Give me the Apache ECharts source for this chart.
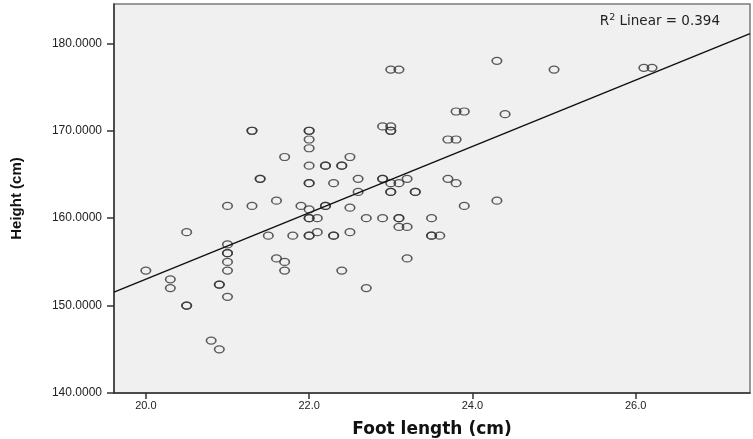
<!DOCTYPE html>
<html>
<head>
<meta charset="utf-8">
<script src="https://cdn.jsdelivr.net/npm/echarts@6/dist/echarts.min.js"></script>
<style>
  html, body { margin: 0; padding: 0; background: #fff; }
  #chart { width: 753px; height: 439px; }
</style>
</head>
<body>
<div id="chart"></div>
<script>
// foot length (cm)
const footLength = [
  20.0, 20.3, 20.3, 20.5, 20.5, 20.5, 20.8, 20.9, 20.9, 20.9,
  21.0, 21.0, 21.0, 21.0, 21.0, 21.0, 21.0, 21.3, 21.3, 21.3,
  21.4, 21.4, 21.5, 21.6, 21.6, 21.7, 21.7, 21.7, 21.8, 21.9,
  22.0, 22.0, 22.0, 22.0, 22.0, 22.0, 22.0, 22.0, 22.0, 22.0, 22.0, 22.0,
  22.1, 22.1, 22.2, 22.2, 22.2, 22.2, 22.3, 22.3, 22.3, 22.4, 22.4, 22.4,
  22.5, 22.5, 22.5, 22.6, 22.6, 22.7, 22.7, 22.9, 22.9, 22.9, 22.9,
  23.0, 23.0, 23.0, 23.0, 23.0, 23.0, 23.0, 23.1, 23.1, 23.1, 23.1, 23.1,
  23.2, 23.2, 23.2, 23.3, 23.3, 23.5, 23.5, 23.5, 23.6,
  23.7, 23.7, 23.8, 23.8, 23.8, 23.9, 23.9, 24.3, 24.3, 24.4, 25.0, 26.1, 26.2
];
// height (cm)
const height = [
  154, 153, 152, 158.4, 150, 150, 146, 145, 152.4, 152.4,
  161.4, 157, 156, 156, 155, 154, 151, 170, 170, 161.4,
  164.5, 164.5, 158, 162, 155.4, 167, 155, 154, 158, 161.4,
  170, 170, 169, 168, 166, 164, 164, 161, 160, 160, 158, 158,
  160, 158.4, 166, 166, 161.4, 161.4, 164, 158, 158, 166, 166, 154,
  167, 161.2, 158.4, 164.5, 163, 160, 152, 170.5, 164.5, 164.5, 160,
  177, 170.5, 170, 170, 164, 163, 163, 177, 164, 160, 160, 159,
  164.5, 159, 155.4, 163, 163, 160, 158, 158, 158,
  169, 164.5, 172.2, 169, 164, 172.2, 161.4, 178, 162, 171.9, 177, 177.2, 177.2
];
const xTicks = [20, 22, 24, 26];
const yTicks = [140, 150, 160, 170, 180];
const xRange = [19.61, 27.4];
const yRange = [140, 184.5];
const r2Text = '0.394';

// least squares fit through the points
const n = footLength.length;
const mx = footLength.reduce((a, b) => a + b, 0) / n;
const my = height.reduce((a, b) => a + b, 0) / n;
let sxy = 0, sxx = 0;
for (let i = 0; i < n; i++) {
  sxy += (footLength[i] - mx) * (height[i] - my);
  sxx += (footLength[i] - mx) * (footLength[i] - mx);
}
const slope = sxy / sxx;
const intercept = my - slope * mx;
const fitLine = xRange.map(x => [x, intercept + slope * x]);

const chart = echarts.init(document.getElementById('chart'));
chart.setOption({
  animation: false,
  backgroundColor: '#fff',
  textStyle: { fontFamily: 'Liberation Sans, Arial, sans-serif' },
  grid: {
    left: 114, right: 3, top: 4, bottom: 46,
    outerBoundsMode: 'none',
    show: true, backgroundColor: '#f0f0f0', borderColor: '#7a7a7a', borderWidth: 1.5
  },
  title: {
    right: 28, top: 8,
    text: '{a|R}{s|2}{a| Linear = ' + r2Text + '}',
    textStyle: {
      fontWeight: 'normal',
      rich: {
        a: { fontSize: 13.5, color: '#222', fontWeight: 'normal', fontFamily: 'DejaVu Sans, Liberation Sans' },
        s: { fontSize: 9.5, color: '#222', fontWeight: 'normal', verticalAlign: 'top', padding: [0, 0, 7, 0], fontFamily: 'DejaVu Sans, Liberation Sans' }
      }
    }
  },
  xAxis: {
    type: 'value', min: xRange[0], max: xRange[1],
    name: 'Foot length (cm)', nameLocation: 'middle', nameGap: 28,
    nameTextStyle: { fontSize: 17, fontWeight: 'bold', color: '#111', fontFamily: 'DejaVu Sans, Liberation Sans, Arial' },
    splitLine: { show: false },
    axisLine: { lineStyle: { color: '#333', width: 1.5 } },
    axisTick: { customValues: xTicks, length: 6, lineStyle: { color: '#333', width: 1.5 } },
    axisLabel: { customValues: xTicks, formatter: v => v.toFixed(1), fontSize: 11, color: '#222', margin: 7 }
  },
  yAxis: {
    type: 'value', min: yRange[0], max: yRange[1],
    name: 'Height (cm)', nameLocation: 'middle', nameGap: 90, nameRotate: 90,
    nameTextStyle: { fontSize: 15, fontWeight: 'bold', color: '#111', fontFamily: 'Liberation Sans Narrow, Liberation Sans, Arial' },
    splitLine: { show: false },
    axisLine: { show: true, lineStyle: { color: '#333', width: 1.5 } },
    axisTick: { show: true, customValues: yTicks, length: 7, lineStyle: { color: '#333', width: 1.5 } },
    axisLabel: { customValues: yTicks, formatter: v => v.toFixed(4), fontSize: 12, color: '#222', margin: 12 }
  },
  series: [
    {
      type: 'scatter',
      data: footLength.map((x, i) => [x, height[i]]),
      symbol: 'circle',
      symbolSize: [9.5, 7],
      itemStyle: { color: 'rgba(0,0,0,0)', borderColor: '#333', borderWidth: 1.4 },
      silent: true
    },
    {
      type: 'line',
      data: fitLine,
      symbol: 'none',
      lineStyle: { color: '#111', width: 1.5 },
      silent: true
    }
  ]
});
</script>
</body>
</html>
